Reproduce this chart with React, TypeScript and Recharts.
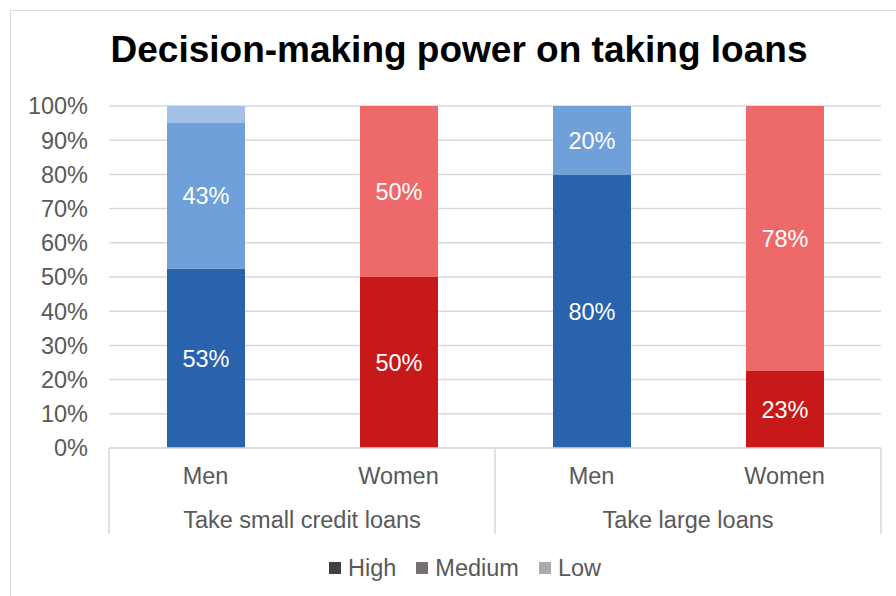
import React from "react";
import { BarChart, Bar, XAxis, YAxis, CartesianGrid, Cell, LabelList } from "recharts";

const groups = ["Take small credit loans", "Take small credit loans", "Take large loans", "Take large loans"];
const sexes = ["Men", "Women", "Men", "Women"];
const highValues = [52.5, 50, 80, 22.5];
const mediumValues = [42.5, 50, 20, 77.5];
const lowValues = [5, 0, 0, 0];
const yTicks = [0, 10, 20, 30, 40, 50, 60, 70, 80, 90, 100];

// per-bar fills (men in blues, women in reds)
const highColors = ["#2A62AD", "#C8191A", "#2A62AD", "#C8191A"];
const mediumColors = ["#70A0DA", "#EE6A6A", "#70A0DA", "#EE6A6A"];
const lowColors = ["#A3C0E8", "#F4A6A6", "#A3C0E8", "#F4A6A6"];

const legendItems = [
  { name: "High", color: "#404040" },
  { name: "Medium", color: "#767171" },
  { name: "Low", color: "#AEAAAA" },
];

const data = sexes.map((sex, i) => ({
  sex,
  group: groups[i],
  high: highValues[i],
  medium: mediumValues[i],
  low: lowValues[i],
}));

const FONT = "'Liberation Sans', Arial, sans-serif";
const FS = 23.5;
const W = 896;
const H = 596;
const PLOT_LEFT = 109;
const PLOT_RIGHT = 881;
const HALF_GROUP = (PLOT_RIGHT - PLOT_LEFT) / 4;

const pct = (v: any) => (v ? `${Math.round(Number(v))}%` : "");

function GroupTick(props: any) {
  const { x, y, payload, index } = props;
  const top = y - 63;
  const bottom = y + 23;
  return (
    <g>
      <line x1={x - HALF_GROUP} x2={x - HALF_GROUP} y1={top} y2={bottom} stroke="#d9d9d9" strokeWidth={1.5} />
      {index === 1 && (
        <line x1={x + HALF_GROUP} x2={x + HALF_GROUP} y1={top} y2={bottom} stroke="#d9d9d9" strokeWidth={1.5} />
      )}
      <text x={x} y={y} dy="0.71em" textAnchor="middle" fill="#595959" fontSize={FS} fontFamily={FONT}>
        {payload.value}
      </text>
    </g>
  );
}

export default function App() {
  return (
    <div style={{ position: "fixed", left: 0, top: 0, width: W, height: H, overflow: "hidden", background: "#fff" }}>
      <div
        style={{
          position: "absolute",
          left: 10,
          top: 10,
          width: W - 10,
          height: H - 10,
          borderLeft: "1px solid #d9d9d9",
          borderTop: "1px solid #d9d9d9",
        }}
      />
      <div
        style={{
          position: "absolute",
          left: 0,
          width: 918,
          top: 29,
          lineHeight: 1.117,
          textAlign: "center",
          fontFamily: FONT,
          fontWeight: "bold",
          fontSize: 37,
          color: "#000",
        }}
      >
        Decision-making power on taking loans
      </div>
      <div style={{ position: "absolute", left: 0, top: 0 }}>
        <BarChart width={W} height={H} data={data} margin={{ top: 106, right: W - PLOT_RIGHT, bottom: 62, left: 10 }}>
          <CartesianGrid vertical={false} stroke="#d9d9d9" strokeWidth={1.5} />
          <YAxis
            width={PLOT_LEFT - 10}
            domain={[0, 100]}
            ticks={yTicks}
            tickFormatter={(v) => `${v}%`}
            axisLine={false}
            tickLine={false}
            tickSize={0}
            tickMargin={21}
            tick={{ fill: "#595959", fontSize: FS, fontFamily: FONT }}
          />
          <XAxis
            dataKey="sex"
            xAxisId={0}
            height={44}
            axisLine={{ stroke: "#d9d9d9", strokeWidth: 1.5 }}
            tickLine={false}
            tickSize={0}
            tickMargin={19}
            interval={0}
            tick={{ fill: "#595959", fontSize: FS, fontFamily: FONT }}
          />
          <XAxis
            dataKey="group"
            xAxisId="group"
            allowDuplicatedCategory={false}
            height={42}
            axisLine={false}
            tickLine={false}
            tickSize={0}
            tickMargin={19}
            interval={0}
            tick={<GroupTick />}
          />
          <Bar dataKey="high" stackId="a" barSize={78} isAnimationActive={false}>
            {data.map((_, i) => (
              <Cell key={i} fill={highColors[i]} />
            ))}
            <LabelList dataKey="high" position="center" formatter={pct} fill="#fff" fontSize={FS} fontFamily={FONT} />
          </Bar>
          <Bar dataKey="medium" stackId="a" barSize={78} isAnimationActive={false}>
            {data.map((_, i) => (
              <Cell key={i} fill={mediumColors[i]} />
            ))}
            <LabelList dataKey="medium" position="center" formatter={pct} fill="#fff" fontSize={FS} fontFamily={FONT} />
          </Bar>
          <Bar dataKey="low" stackId="a" barSize={78} isAnimationActive={false}>
            {data.map((_, i) => (
              <Cell key={i} fill={lowColors[i]} />
            ))}
          </Bar>
        </BarChart>
      </div>
      <div
        style={{
          position: "absolute",
          left: 329,
          top: 555,
          display: "flex",
          lineHeight: 1.117,
          fontFamily: FONT,
          fontSize: FS,
          color: "#595959",
        }}
      >
        {legendItems.map((item) => (
          <div key={item.name} style={{ display: "flex", alignItems: "center", marginRight: 20 }}>
            <span style={{ width: 12, height: 12, background: item.color, marginRight: 7, display: "inline-block" }} />
            <span>{item.name}</span>
          </div>
        ))}
      </div>
    </div>
  );
}
